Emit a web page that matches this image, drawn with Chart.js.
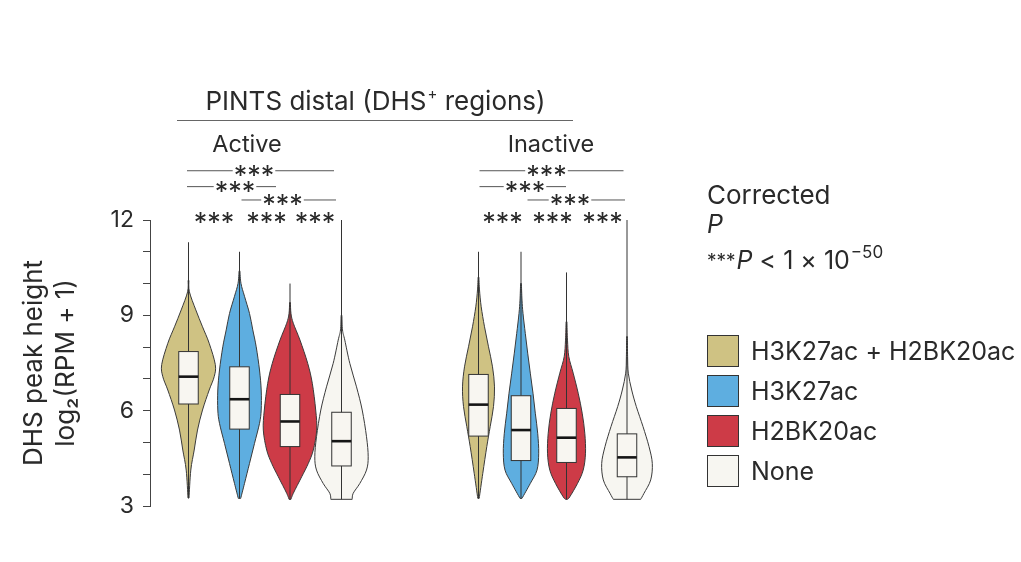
<!DOCTYPE html>
<html>
<head>
<meta charset="utf-8">
<title>DHS peak height</title>
<script src="https://cdn.jsdelivr.net/npm/chart.js@4.4.1/dist/chart.umd.min.js"></script>
<style>
  html, body { margin: 0; padding: 0; background: #fff; }
  #contenedor { width: 1021px; height: 562px; position: relative; }
</style>
</head>
<body>
<div id="contenedor"><canvas id="grafico"></canvas></div>
<script>
// Datos
const grupos = ['Active', 'Inactive'];
const categorias = ['H3K27ac + H2BK20ac', 'H3K27ac', 'H2BK20ac', 'None'];
const ticksY = [3, 6, 9, 12];

// Cuartiles y extremos por categoría
const activoQ1 = [6.21, 5.42, 4.87, 4.26];
const activoMediana = [7.07, 6.36, 5.66, 5.04];
const activoQ3 = [7.86, 7.38, 6.51, 5.95];
const activoMin = [3.25, 3.24, 3.21, 3.21];
const activoMax = [11.3, 11.0, 10.0, 12.0];

const inactivoQ1 = [5.20, 4.43, 4.37, 3.92];
const inactivoMediana = [6.19, 5.39, 5.15, 4.53];
const inactivoQ3 = [7.14, 6.47, 6.07, 5.27];
const inactivoMin = [3.24, 3.24, 3.21, 3.21];
const inactivoMax = [11.0, 11.0, 10.35, 12.0];

// Perfil de densidad [valor, densidad relativa], de abajo hacia arriba
const densidadActivo = [
  [[3.25, 0.5], [4.13, 2.3], [4.76, 5.7], [5.39, 9], [6.02, 14], [6.65, 20.7], [7.07, 25.7], [7.45, 26.8], [8.12, 20.7], [8.64, 14], [9.17, 7.3], [9.74, 0.9], [10.1, 0.4]],
  [[3.24, 1.2], [3.71, 5], [4.34, 10], [4.97, 15], [5.60, 20], [6.02, 21.7], [6.65, 21.7], [7.28, 20], [8.01, 16.7], [8.54, 13.3], [9.06, 10], [9.6, 5], [10.0, 1.5], [10.4, 0.4]],
  [[3.21, 1], [3.40, 3.3], [3.92, 11.7], [4.34, 18.3], [4.76, 23.3], [5.39, 26.7], [6.02, 25.7], [6.86, 22.3], [7.49, 17.7], [8.22, 10], [8.75, 3.3], [9.05, 1], [9.4, 0.4]],
  [[3.21, 10.7], [3.40, 11.7], [3.71, 18.3], [4.13, 25], [4.55, 26.7], [5.18, 25], [6.02, 20.7], [6.75, 15], [7.49, 8.3], [8.22, 3.3], [8.54, 1], [9.0, 0.4]]
];
const densidadInactivo = [
  [[3.24, 0.7], [4.03, 4.3], [4.87, 8.3], [5.50, 11.7], [6.13, 15], [6.75, 16], [7.38, 14], [8.01, 10], [8.64, 6], [9.27, 2.7], [9.8, 1], [10.2, 0.4]],
  [[3.24, 1], [3.71, 9.3], [4.13, 16], [4.66, 17.7], [5.29, 16.7], [5.92, 14.3], [6.55, 12], [7.18, 9.3], [7.81, 6.7], [8.43, 4.3], [9.06, 2], [9.48, 1], [10.0, 0.4]],
  [[3.21, 1], [3.29, 3.3], [3.71, 11], [4.13, 16.7], [4.66, 19], [5.29, 18.3], [5.92, 15.7], [6.55, 11.7], [7.18, 6.7], [7.70, 2.3], [8.22, 1], [8.8, 0.4]],
  [[3.21, 13.7], [3.40, 17], [3.82, 23.7], [4.34, 25.3], [4.87, 22], [5.50, 16], [6.13, 9.3], [6.65, 4.7], [7.18, 1.3], [7.7, 0.6], [8.33, 0.4]]
];

// Disposición (posiciones en unidades del eje x)
const posActivo = [0.77, 1.79, 2.80, 3.83];
const posInactivo = [6.57, 7.42, 8.33, 9.54];
const anchoDensidad = 1 / 50;   // unidades x por unidad de densidad
const semiCaja = 0.195;

// Corchetes de significancia: [x1, x2, xEstrellas, nivel y]
const corchetes = [
  [0.74, 3.68, 2.08, 13.55], [0.74, 2.52, 1.70, 13.05], [1.83, 3.72, 2.65, 12.63],
  [6.59, 9.47, 7.93, 13.55], [6.59, 8.32, 7.50, 13.05], [7.55, 9.50, 8.40, 12.63]
];
const estrellasSueltas = [1.28, 2.33, 3.30, 7.05, 8.05, 9.05];

const colores = ['#cfc283', '#5eaee0', '#cd3b47', '#f7f6f1'];
const fuente = 'Inter, "Open Sans", sans-serif';
const tinta = '#2a2a2a';

// Curva suave (Catmull-Rom) a través de los puntos
function curva(ctx, pts) {
  for (let i = 0; i < pts.length - 1; i++) {
    const p0 = pts[Math.max(i - 1, 0)], p1 = pts[i], p2 = pts[i + 1], p3 = pts[Math.min(i + 2, pts.length - 1)];
    ctx.bezierCurveTo(
      p1[0] + (p2[0] - p0[0]) / 6, p1[1] + (p2[1] - p0[1]) / 6,
      p2[0] - (p3[0] - p1[0]) / 6, p2[1] - (p3[1] - p1[1]) / 6,
      p2[0], p2[1]);
  }
}

function dibujarViolin(ctx, x, y, pos, perfil, q1, med, q3, min, max, color) {
  const cx = x.getPixelForValue(pos);
  const der = perfil.map(p => [x.getPixelForValue(pos + p[1] * anchoDensidad), y.getPixelForValue(p[0])]);
  const izq = perfil.map(p => [x.getPixelForValue(pos - p[1] * anchoDensidad), y.getPixelForValue(p[0])]).reverse();
  ctx.beginPath();
  ctx.moveTo(der[0][0], der[0][1]);
  curva(ctx, der);
  ctx.lineTo(izq[0][0], izq[0][1]);
  curva(ctx, izq);
  ctx.closePath();
  ctx.fillStyle = color;
  ctx.fill();
  ctx.lineWidth = 1;
  ctx.strokeStyle = '#3a3a3a';
  ctx.stroke();

  // bigote
  ctx.beginPath();
  ctx.moveTo(cx, y.getPixelForValue(min));
  ctx.lineTo(cx, y.getPixelForValue(max));
  ctx.lineWidth = 1;
  ctx.strokeStyle = '#333';
  ctx.stroke();

  // caja
  const xl = x.getPixelForValue(pos - semiCaja), xr = x.getPixelForValue(pos + semiCaja);
  const yt = y.getPixelForValue(q3), yb = y.getPixelForValue(q1);
  ctx.fillStyle = '#f8f6f1';
  ctx.fillRect(xl, yt, xr - xl, yb - yt);
  ctx.strokeStyle = '#333';
  ctx.lineWidth = 1;
  ctx.strokeRect(xl, yt, xr - xl, yb - yt);
  ctx.beginPath();
  ctx.moveTo(xl, y.getPixelForValue(med));
  ctx.lineTo(xr, y.getPixelForValue(med));
  ctx.lineWidth = 2.6;
  ctx.strokeStyle = '#151515';
  ctx.stroke();
}

// Texto centrado verticalmente sobre una línea
function estrellas(ctx, texto, cx, cy) {
  ctx.font = '27px ' + fuente;
  const m = ctx.measureText(texto);
  const base = cy + (m.actualBoundingBoxAscent - m.actualBoundingBoxDescent) / 2;
  ctx.textAlign = 'center';
  ctx.textBaseline = 'alphabetic';
  ctx.fillStyle = tinta;
  ctx.fillText(texto, cx, base);
  return m.width;
}

const pluginViolines = {
  id: 'violines',
  afterDatasetsDraw(chart) {
    const { ctx, scales: { x, y } } = chart;
    ctx.save();
    categorias.forEach((c, i) => {
      dibujarViolin(ctx, x, y, posActivo[i], densidadActivo[i], activoQ1[i], activoMediana[i], activoQ3[i], activoMin[i], activoMax[i], colores[i]);
      dibujarViolin(ctx, x, y, posInactivo[i], densidadInactivo[i], inactivoQ1[i], inactivoMediana[i], inactivoQ3[i], inactivoMin[i], inactivoMax[i], colores[i]);
    });

    // corchetes
    corchetes.forEach(([a, b, s, nivel]) => {
      const py = y.getPixelForValue(nivel);
      const xs = x.getPixelForValue(s);
      const w = estrellas(ctx, '***', xs, py);
      ctx.beginPath();
      ctx.moveTo(x.getPixelForValue(a), py);
      ctx.lineTo(xs - w / 2 - 1, py);
      ctx.moveTo(xs + w / 2 + 1, py);
      ctx.lineTo(x.getPixelForValue(b), py);
      ctx.lineWidth = 1;
      ctx.strokeStyle = '#555';
      ctx.stroke();
    });
    estrellasSueltas.forEach(s => estrellas(ctx, '***', x.getPixelForValue(s), y.getPixelForValue(12.06)));

    // encabezados
    ctx.fillStyle = tinta;
    ctx.textBaseline = 'alphabetic';
    ctx.font = '26px ' + fuente;
    const t1 = 'PINTS distal (DHS', t2 = '+', t3 = ' regions)';
    const w1 = ctx.measureText(t1).width, w3 = ctx.measureText(t3).width;
    ctx.font = '15px ' + fuente;
    const w2 = ctx.measureText(t2).width;
    let xt = (x.getPixelForValue(0.54) + x.getPixelForValue(8.46)) / 2 - (w1 + w2 + w3) / 2;
    ctx.textAlign = 'left';
    ctx.font = '26px ' + fuente;
    ctx.fillText(t1, xt, 110);
    ctx.font = '15px ' + fuente;
    ctx.fillText(t2, xt + w1 + 1, 99);
    ctx.font = '26px ' + fuente;
    ctx.fillText(t3, xt + w1 + w2 + 1, 110);
    ctx.beginPath();
    ctx.moveTo(x.getPixelForValue(0.54), 120.5);
    ctx.lineTo(x.getPixelForValue(8.46), 120.5);
    ctx.lineWidth = 1.2;
    ctx.strokeStyle = '#666';
    ctx.stroke();

    ctx.font = '23.5px ' + fuente;
    ctx.textAlign = 'center';
    ctx.fillText(grupos[0], x.getPixelForValue(1.94), 152);
    ctx.fillText(grupos[1], x.getPixelForValue(8.02), 152);

    // leyenda de P
    ctx.textAlign = 'left';
    ctx.font = '26px ' + fuente;
    ctx.fillText('Corrected', 707, 204);
    ctx.font = 'italic 25px ' + fuente;
    ctx.fillText('P', 707, 233);
    let xp = 707;
    ctx.font = '19px ' + fuente;
    ctx.fillText('***', xp, 267);
    xp += ctx.measureText('***').width + 1;
    ctx.font = 'italic 25px ' + fuente;
    ctx.fillText('P', xp, 269);
    xp += ctx.measureText('P').width;
    ctx.font = '25px ' + fuente;
    ctx.fillText(' < 1 × 10', xp, 269);
    xp += ctx.measureText(' < 1 × 10').width + 1;
    ctx.font = '17px ' + fuente;
    ctx.fillText('−50', xp, 258);

    // leyenda de categorías
    categorias.forEach((c, i) => {
      const top = 335 + i * 40;
      ctx.fillStyle = colores[i];
      ctx.fillRect(707.5, top + 0.5, 31, 31);
      ctx.strokeStyle = '#333';
      ctx.lineWidth = 1;
      ctx.strokeRect(707.5, top + 0.5, 31, 31);
      ctx.fillStyle = tinta;
      ctx.font = '25px ' + fuente;
      ctx.textBaseline = 'middle';
      ctx.fillText(c, 751, top + 17);
      ctx.textBaseline = 'alphabetic';
    });
    ctx.restore();
  }
};

const ctx = document.getElementById('grafico').getContext('2d');
const grafico = new Chart(ctx, {
  type: 'scatter',
  data: { datasets: [] },
  options: {
    responsive: true,
    maintainAspectRatio: false,
    animation: false,
    layout: { padding: { left: 0, top: 220, right: 341, bottom: 56 } },
    plugins: { legend: { display: false }, tooltip: { enabled: false } },
    scales: {
      x: { type: 'linear', min: 0, max: 10.6, display: false },
      y: {
        type: 'linear',
        min: 3,
        max: 12,
        afterFit: (escala) => { escala.width = 150; },
        afterBuildTicks: (escala) => {
          escala.ticks = [];
          for (let v = 3; v <= 12; v++) escala.ticks.push({ value: v });
        },
        ticks: {
          autoSkip: false,
          padding: 9,
          color: tinta,
          font: { family: fuente, size: 23 },
          callback: (v) => ticksY.includes(v) ? String(v) : ''
        },
        grid: { drawOnChartArea: false, drawTicks: true, tickLength: 7, color: '#444', lineWidth: 1 },
        border: { display: true, color: '#444', width: 1 },
        title: {
          display: true,
          text: ['DHS peak height', 'log₂(RPM + 1)'],
          color: tinta,
          font: { family: fuente, size: 26, lineHeight: 1.2 },
          padding: { top: 19, bottom: 0 }
        }
      }
    }
  },
  plugins: [pluginViolines]
});
</script>
</body>
</html>
